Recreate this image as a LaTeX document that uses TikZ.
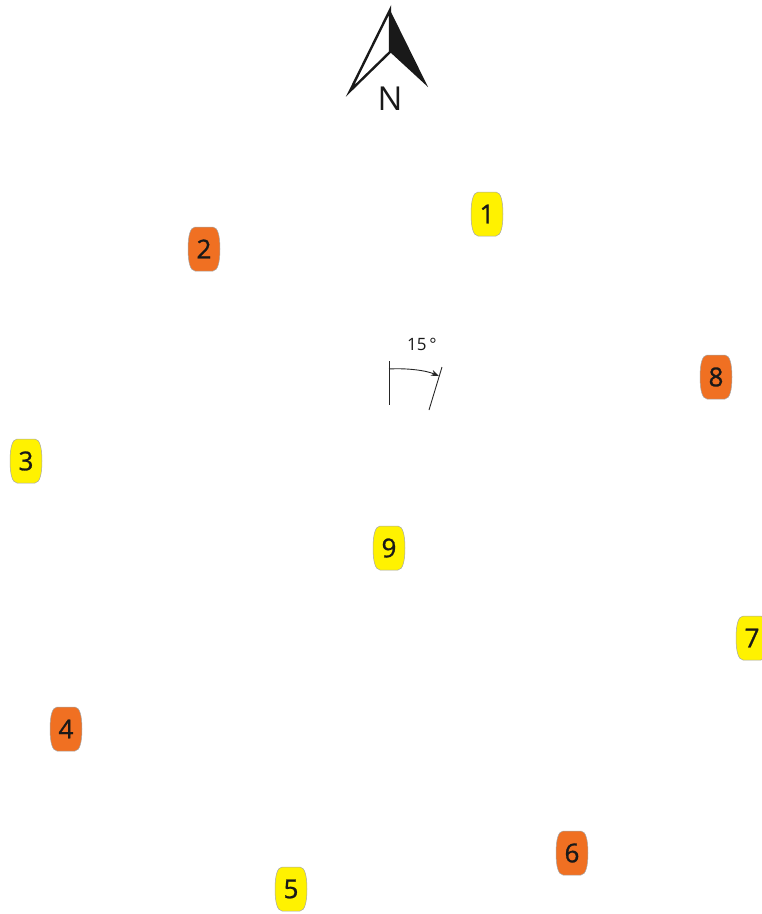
\documentclass[tikz,border=0pt]{standalone}
\usepackage{fontspec}
\setmainfont{Open Sans}
\newfontfamily\badgefont{Open Sans}[BoldFont=*, BoldFeatures={FakeBold=1.0}]
\usetikzlibrary{arrows.meta}
\definecolor{byel}{HTML}{FFF200}
\definecolor{borg}{HTML}{F07022}
\tikzset{
  lbl/.style={inner sep=0pt, font=\badgefont\bfseries\fontsize{26}{26}\selectfont, text=black!90},
  barrel/.style={draw=black!35, line width=0.5pt},
  thinline/.style={line width=0.9pt, black!85},
}
\newcommand{\badge}[4]{%
  \path[barrel, fill=#3] (#2) ++(-9,-22) -- ++(18,0)
    .. controls ++(5,0) and ++(0,-12) .. ++(7,22)
    .. controls ++(0,12) and ++(5,0) .. ++(-7,22)
    -- ++(-18,0)
    .. controls ++(-5,0) and ++(0,12) .. ++(-7,-22)
    .. controls ++(0,-12) and ++(-5,0) .. cycle;
  \node[lbl] (#1) at (#2) {#4};
}
\begin{document}
\begin{tikzpicture}[x=1pt,y=-1pt]
\useasboundingbox (0,0) rectangle (762,914);
% north arrow
\coordinate (apex) at (390,10);
\coordinate (ltip) at (350,91);
\coordinate (rtip) at (428,87);
\coordinate (inner) at (390,52);
\fill[black!90] (apex) -- (rtip) -- (inner) -- cycle;
\draw[black!90, line width=2.4pt, line join=miter] (apex) -- (ltip) -- (inner) -- cycle;
\node[inner sep=0pt, font=\fontsize{33}{33}\selectfont, text=black!90] (north) at (390,99) {N};
% angle
\coordinate (vtop) at (389,361);
\coordinate (vbot) at (389,405);
\coordinate (stop) at (442,367);
\coordinate (sbot) at (429,410);
\coordinate (astart) at (389,369);
\coordinate (aend) at (439,376);
\draw[thinline] (vtop) -- (vbot);
\draw[thinline] (stop) -- (sbot);
\draw[thinline, -{Stealth[length=8pt,width=6pt]}] (astart) .. controls (405,368) and (425,370) .. (aend);
\node[inner sep=0pt, font=\fontsize{17}{17}\selectfont, text=black!90] (angle) at (422,344) {15\,°};
% badges
\badge{b1}{487,214}{byel}{1}
\badge{b2}{204,249}{borg}{2}
\badge{b3}{26,461}{byel}{3}
\badge{b4}{66,729}{borg}{4}
\badge{b5}{291,889}{byel}{5}
\badge{b6}{572,853}{borg}{6}
\badge{b7}{752,638}{byel}{7}
\badge{b8}{716,377}{borg}{8}
\badge{b9}{389,548}{byel}{9}
\end{tikzpicture}
\end{document}
